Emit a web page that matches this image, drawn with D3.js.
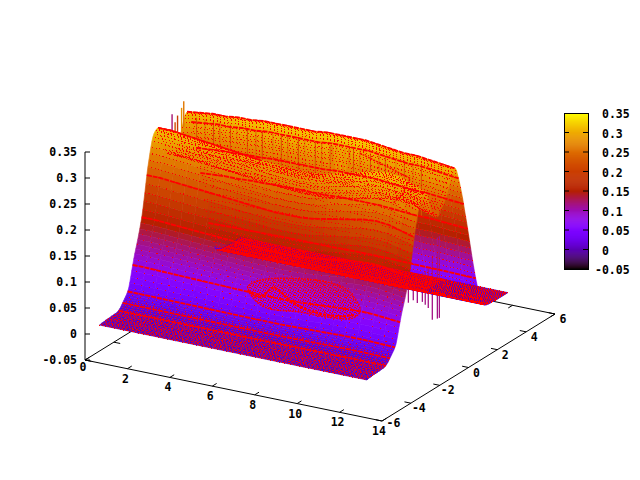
<!DOCTYPE html>
<html><head><meta charset="utf-8">
<script src="https://cdn.jsdelivr.net/npm/d3@7/dist/d3.min.js"></script>
<style>html,body{margin:0;background:#fff}svg{display:block}
text{font-family:"DejaVu Sans Mono",monospace;font-weight:bold;font-size:11.5px;fill:#000}</style>
</head><body><svg id="c" width="640" height="480"></svg>
<script>
const xTicks=[0,2,4,6,8,10,12,14];
const yTicks=[-6,-4,-2,0,2,4,6];
const zTicks=[-0.05,0,0.05,0.1,0.15,0.2,0.25,0.3,0.35];
const colX=[0,.6,1.2,1.8,2.4,3,3.6,4.2,4.8,5.4,6,6.6,7.2,7.8,8.4,9,9.6,10.2,10.8,11.4,12,12.6];
const gainFront=[1,1,.99,.98,.97,.96,.95,.94,.93,.92,.91,.91,.91,.92,.94,.96,.98,1,1.01,1,.97,.94];
const gainBack=[.98,.99,1,1,1.01,1.01,1.02,1.02,1.02,1.02,1.02,1.03,1.03,1.03,1.03,1.02,1.01,1,1,.99,.98,.97];
const rowZ=[
0,0,.001,.001,.001,.001,.002,.002,.002,.002,
.002,.002,.003,.002,.003,.003,.003,.003,.004,.005,
.007,.009,.012,.015,.018,.021,.024,.027,.031,.036,
.045,.055,.066,.076,.086,.095,.103,.111,.119,.128,
.137,.147,.157,.170,.185,.200,.216,.232,.246,.258,
.270,.281,.291,.298,.303,.306,.308,.309,.310,.308,
.300,.290,.279,.270,.262,.256,.252,.249,.247,.246,
.245,.245,.246,.247,.249,.251,.254,.258,.262,.267,
.273,.280,.288,.296,.303,.308,.311,.312,.310,.305,
.296,.287,.277,.266,.255,.243,.230,.216,.203,.190,
.176,.162,.148,.134,.120,.106,.093,.080,.068,.057,
.046,.036,.028,.020,.014,.009,.006,.004,.003,.002,
.002,.001,.001,.001,.001,.001,0,0,0,0,
0,0,0,0,0,0,0,0,0,0,
0];
const bandRows=[19,23,28,33,42,47,87,91,96,100,108];
const ridgeBandRows=[58,59];
const ribbonSolidRows=[116,118,120,122,124,126,128,130,132,134,136,138,140];
const wallX=[.5,.9,1.3,1.6,2.1,2.4,2.9,3.3,3.6,4.1,4.5,4.8,5.3,5.6,6.1,6.4,6.8,7.9,8.2,8.7,9.1,9.4,9.9,10.3,10.7,11.1];
const wallTone=[.23,.26,.22,.25,.23,.27,.23,.25,.22,.26,.23,.25,.22,.27,.23,.25,.24,.23,.26,.23,.25,.23,.27,.24,.26,.23];
const notchX=[6.9,7.1,7.3,7.5,7.7];
const notchTone=[.27,.285,.29,.285,.27];
const peakY=[.04,.25,.42,.7,.85];
const peakHigh=[.319,.3,.31,.32,.33];
const peakLow=[.283,.27,.27,.27,.28];
const peakTone=[.12,.22,.2,.28,.26];
const fringeY=[-2.11,-1.77,-1.49,-1.14,-.94,-.73,-.45,-.1,.04];
const fringeLow=[.099,.098,.088,.084,.075,.065,.038,.034,.033];
const fringeHigh=[.14,.14,.14,.14,.14,.14,.16,.19,.19];
const blobX=[5.5,5.85,6.41,7.97,9.24,10.46,10.8,10.18,9.24,7.5,6.1];
const blobZ=[.0815,.059,.0487,.054,.055,.0635,.0815,.115,.1225,.115,.10];
const curveX=[5.5,6.1,6.7,7.64,8.77,9.85,10.5];
const curveZ=[.075,.067,.09,.069,.059,.062,.07];
const crackX=[9.56,10.75,11.93,11.59,11.13];
const crackZ=[.342,.328,.3135,.282,.259];

const W=297,H=61,DX=173,DY=107;
const xToH=d3.scaleLinear([0,14],[0,W]), xToV=d3.scaleLinear([0,14],[0,H]);
const yToH=d3.scaleLinear([-6,6],[0,DX]), yToV=d3.scaleLinear([-6,6],[0,-DY]);
const zToV=d3.scaleLinear([-0.05,0.35],[360,152]);
const px=(x,y)=>85+xToH(x)+yToH(y);
const py=(x,y,z)=>zToV(z)+xToV(x)+yToV(y);
const tone=d3.scaleLinear([-0.05,0.35],[0,1]).clamp(true);
const pal=z=>{const g=tone(z);const c=v=>Math.round(255*Math.max(0,Math.min(1,v)));
 return `rgb(${c(Math.sqrt(g))},${c(g*g*g)},${c(Math.sin(2*Math.PI*g))})`;};
const rowY=rowZ.map((_,i)=>-5+.07*i);
const Z=(r,c)=>rowZ[r]*(rowY[r]<0?gainFront[c]:gainBack[c]);
const svg=d3.select("#c");
const defs=svg.append("defs");
const pat=defs.append("pattern").attr("id","dense").attr("width",5).attr("height",5).attr("patternUnits","userSpaceOnUse");
[[0,0],[2,1],[4,2],[1,3],[3,4],[0,2],[3,0]].forEach(d=>pat.append("rect").attr("x",d[0]).attr("y",d[1]).attr("width",1).attr("height",1).attr("fill","#f00"));

const ax=svg.append("g").attr("stroke","#000").attr("stroke-width",1).attr("fill","none");
const seg=(g,a,b)=>g.append("line").attr("x1",a[0]).attr("y1",a[1]).attr("x2",b[0]).attr("y2",b[1]);
const P=(x,y,z=-0.05)=>[px(x,y),py(x,y,z)];
seg(ax,P(0,-6),P(14,-6));seg(ax,P(14,-6),P(14,6));seg(ax,P(14,6),P(0,6));seg(ax,P(0,6),P(0,-6));
xTicks.forEach(t=>{seg(ax,P(t,-6),P(t,-5.7));seg(ax,P(t,6),P(t,5.7));});
yTicks.forEach(t=>{seg(ax,P(14,t),P(13.7,t));seg(ax,P(0,t),P(.3,t));});

const cells=svg.append("g");
const drawRow=r=>{
 for(let c=0;c<colX.length-1;c++){
  const q=[[r,c],[r,c+1],[r+1,c+1],[r+1,c]];
  const col=pal((Z(r,c)+Z(r,c+1)+Z(r+1,c)+Z(r+1,c+1))/4);
  cells.append("path").attr("d","M"+q.map(([i,j])=>[px(colX[j],rowY[i]),py(colX[j],rowY[i],Z(i,j))].join(",")).join("L")+"Z")
   .attr("fill",col).attr("stroke",col).attr("stroke-width",.6);
 }};
const vline=(x,y,z0,z1,t,w)=>cells.append("line").attr("x1",px(x,y)).attr("y1",py(x,y,z0)).attr("x2",px(x,y)).attr("y2",py(x,y,z1)).attr("stroke",pal(t)).attr("stroke-width",w);
const ribbonStart=114;
for(let r=ribbonStart-1;r>=72;r--)drawRow(r);
wallX.forEach((x,i)=>vline(x,1,.30,.2,wallTone[i],1.1));
notchX.forEach((x,i)=>vline(x,1,.30,.2,notchTone[i],2.4));
peakY.forEach((y,i)=>vline(0,y,peakLow[i],peakHigh[i],peakTone[i],1.4));
for(let r=71;r>=0;r--)drawRow(r);
fringeY.forEach((y,i)=>vline(12.6,y,fringeLow[i],fringeHigh[i],.115,1.3));
for(let r=ribbonStart;r<rowZ.length-1;r++)drawRow(r);

const rowLine=(r,n=colX.length)=>d3.line().x((_,j)=>px(colX[j],rowY[r])).y((_,j)=>py(colX[j],rowY[r],Z(r,j)))(colX.slice(0,n));
const dots=svg.append("g").attr("fill","none").attr("stroke","#f00").attr("shape-rendering","crispEdges");
rowZ.forEach((z,r)=>{
 const low=rowY[r]<0&&z>.02&&z<.15;
 const ribbon=r>=ribbonStart;
 dots.append("path").attr("d",rowLine(r)).attr("stroke-width",1)
  .attr("stroke-dasharray",ribbon?"1 1":low?"1 7":(z<.02?"1 2":"1 2.6")).attr("stroke-dashoffset",(r*2.3)%5);
});
ribbonSolidRows.forEach(r=>svg.append("path").attr("d",rowLine(r,17)).attr("fill","none").attr("stroke","#f00").attr("stroke-width",1));
bandRows.forEach(r=>svg.append("path").attr("d",rowLine(r)).attr("fill","none").attr("stroke","#f00").attr("stroke-width",1.9).attr("stroke-dasharray","5 1"));
ridgeBandRows.forEach(r=>svg.append("path").attr("d",rowLine(r,9)).attr("fill","none").attr("stroke","#f00").attr("stroke-width",1.6).attr("stroke-dasharray","4 1"));
const onFace=d3.line().x(d=>px(d[0],-2.8)).y(d=>py(d[0],-2.8,d[1]));
svg.append("path").attr("d",onFace.curve(d3.curveCatmullRomClosed)(blobX.map((x,i)=>[x,blobZ[i]]))).attr("fill","url(#dense)").attr("stroke","#f00").attr("stroke-width",1.4).attr("stroke-dasharray","2 1");
svg.append("path").attr("d",d3.line().x(d=>px(d[0],-2.8)).y(d=>py(d[0],-2.8,d[1])).curve(d3.curveCatmullRom)(curveX.map((x,i)=>[x,curveZ[i]]))).attr("fill","none").attr("stroke","#f00").attr("stroke-width",2.4).attr("stroke-dasharray","3 1");
svg.append("path").attr("d",d3.line().x(d=>px(d[0],-1)).y(d=>py(d[0],-1,d[1]))(crackX.map((x,i)=>[x,crackZ[i]]))).attr("fill","none").attr("stroke","#f00").attr("stroke-width",1.5).attr("stroke-dasharray","2 1");

const zg=svg.append("g");
zg.append("line").attr("x1",85).attr("x2",85).attr("y1",zToV(.35)).attr("y2",zToV(-.05)).attr("stroke","#000");
zTicks.forEach(t=>{
 zg.append("line").attr("x1",85).attr("x2",90).attr("y1",zToV(t)).attr("y2",zToV(t)).attr("stroke","#000");
 zg.append("text").attr("x",77).attr("y",zToV(t)+4).attr("text-anchor","end").text(t);
});
const lab=(x,y,t)=>svg.append("text").attr("x",x).attr("y",y+4).attr("text-anchor","middle").text(t);
xTicks.forEach(t=>lab(px(t,-6)-2+(t==14?-1:0),py(t,-6,-.05)+(t==0?7:6+4),t));
yTicks.forEach(t=>lab(px(14,t)+8+(t==-6?3.5:0),py(14,t,-.05)+5-(t==-6?3:0),t));

const cb=d3.scaleLinear([-0.05,0.35],[269,113]);
const cg=svg.append("g");
d3.range(-0.05,0.35,0.0025).forEach(v=>cg.append("rect").attr("x",564).attr("width",24).attr("y",cb(v+.0025)).attr("height",cb(v)-cb(v+.0025)+.5).attr("fill",pal(v)));
cg.append("rect").attr("x",564.5).attr("y",113.5).attr("width",24).attr("height",156).attr("fill","none").attr("stroke","#000");
zTicks.forEach(t=>{
 if(t>-.05&&t<.35){cg.append("line").attr("x1",564).attr("x2",569).attr("y1",cb(t)).attr("y2",cb(t)).attr("stroke","#000");
 cg.append("line").attr("x1",583).attr("x2",588).attr("y1",cb(t)).attr("y2",cb(t)).attr("stroke","#000");}
 cg.append("text").attr("x",t<0?595:602).attr("y",cb(t)+5).text(t);
});
</script></body></html>
